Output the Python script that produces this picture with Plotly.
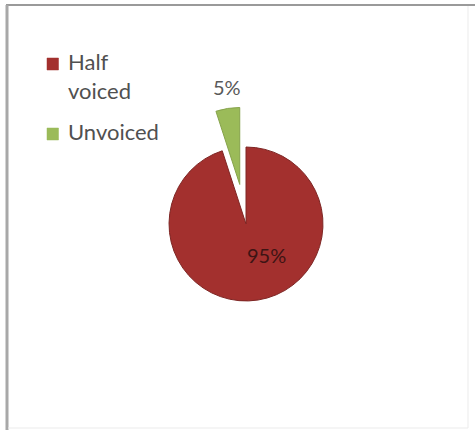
import plotly.graph_objects as go

# Share of frames by voicing class
categories = ["Half<br>voiced", "Unvoiced"]
shares = [95, 5]

W, H = 475, 430
slice_colors = ["#A3302E", "#9BBB59"]
edge_colors = ["#7E2624", "#86A34B"]
label_font = "Lato"


def px_x(x):
    return x / W


def px_y(y):
    return 1 - y / H


fig = go.Figure()
fig.add_trace(go.Pie(
    labels=categories,
    values=shares,
    sort=False,
    direction="clockwise",
    rotation=0,
    pull=[0, 0.52],
    marker=dict(colors=slice_colors, line=dict(color=edge_colors, width=1)),
    textinfo="none",
    domain=dict(x=[px_x(129), px_x(363)], y=[px_y(341), px_y(107)]),
    hoverinfo="label+percent",
    automargin=False,
    showlegend=False,
))

# Percentage labels: large slice inside, small pulled slice outside
value_labels = [
    dict(x=266, y=255, color="#3E1414"),
    dict(x=227, y=87, color="#595959"),
]
for share, spot in zip(shares, value_labels):
    fig.add_annotation(
        x=px_x(spot["x"]), y=px_y(spot["y"]), xref="paper", yref="paper",
        text=f"{share}%", showarrow=False, xanchor="center", yanchor="middle",
        font=dict(family=label_font, size=20, color=spot["color"]),
    )

# Legend: colour swatch plus category name
legend_rows = [dict(swatch_y=64, text_y=46), dict(swatch_y=134, text_y=116)]
for name, color, row in zip(categories, slice_colors, legend_rows):
    fig.add_shape(
        type="rect", xref="paper", yref="paper",
        x0=px_x(47), x1=px_x(58.5),
        y0=px_y(row["swatch_y"] + 6), y1=px_y(row["swatch_y"] - 6),
        fillcolor=color, line=dict(color=color, width=0.5),
    )
    fig.add_annotation(
        x=px_x(66), y=px_y(row["text_y"]), xref="paper", yref="paper",
        text=name, showarrow=False, xanchor="left", yanchor="top", align="left",
        font=dict(family=label_font, size=22, color="#505050"),
    )

# Chart frame: darker top/left edges, faint right/bottom edges
fig.add_shape(type="line", xref="paper", yref="paper",
              x0=px_x(6), x1=1, y0=px_y(5), y1=px_y(5),
              line=dict(color="#9A9A9A", width=2))
fig.add_shape(type="line", xref="paper", yref="paper",
              x0=px_x(7), x1=px_x(7), y0=0, y1=px_y(5),
              line=dict(color="#A8A8A8", width=3))
fig.add_shape(type="line", xref="paper", yref="paper",
              x0=px_x(468), x1=px_x(468), y0=px_y(428), y1=px_y(6),
              line=dict(color="#EBEBEB", width=1))
fig.add_shape(type="line", xref="paper", yref="paper",
              x0=px_x(8), x1=px_x(468), y0=px_y(428), y1=px_y(428),
              line=dict(color="#EBEBEB", width=1))

fig.update_layout(
    width=W, height=H,
    margin=dict(l=0, r=0, t=0, b=0),
    paper_bgcolor="white",
    plot_bgcolor="white",
)

fig.write_html("out.html")
